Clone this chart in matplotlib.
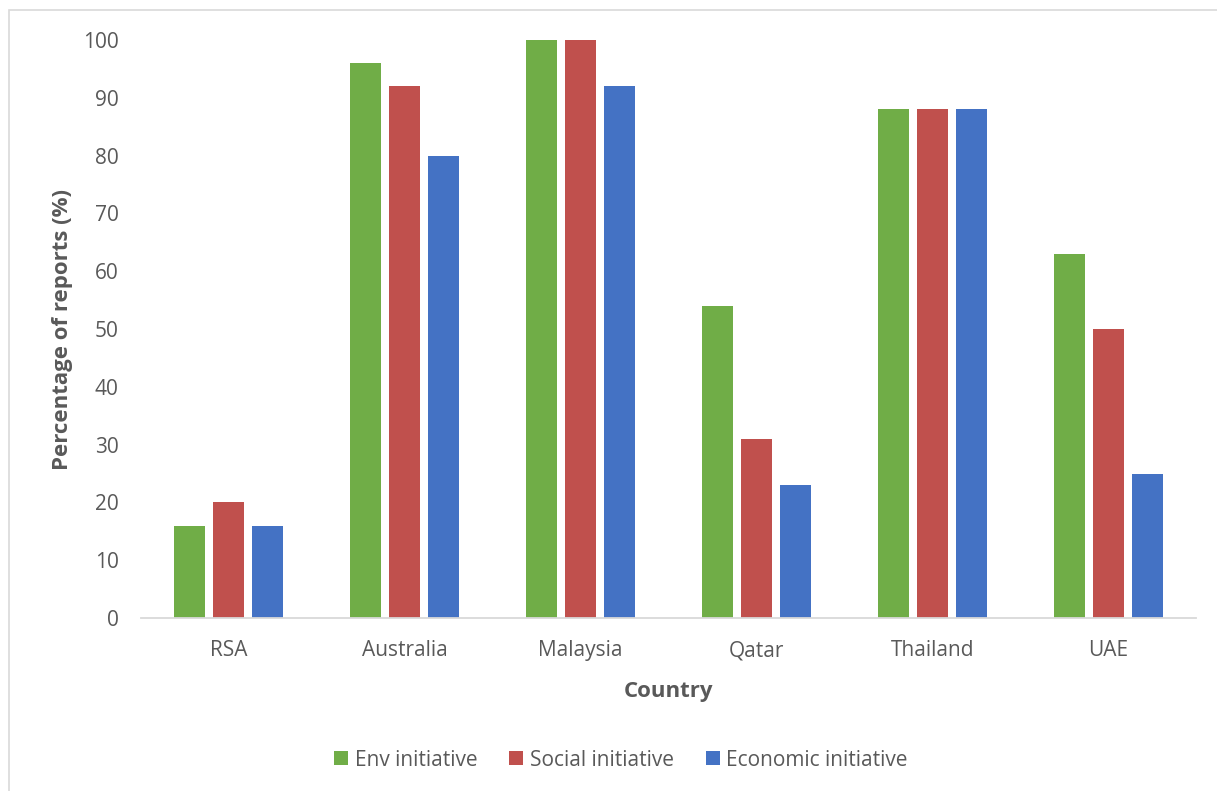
import matplotlib
matplotlib.use("Agg")
import matplotlib.pyplot as plt
from matplotlib.patches import Rectangle, Patch
import numpy as np

countries = ["RSA", "Australia", "Malaysia", "Qatar", "Thailand", "UAE"]
env_initiative = [16, 96, 100, 54, 88, 63]
social_initiative = [20, 92, 100, 31, 88, 50]
economic_initiative = [16, 80, 92, 23, 88, 25]
series_names = ["Env initiative", "Social initiative", "Economic initiative"]
colors = ["#70AD47", "#C0504D", "#4472C4"]
yticks = [0, 10, 20, 30, 40, 50, 60, 70, 80, 90, 100]

plt.rcParams["font.family"] = ["Open Sans", "DejaVu Sans"]
text_color = "#595959"

W, H = 1217, 791
fig = plt.figure(figsize=(W / 100, H / 100), dpi=100)

# chart-area border
fig.patches.append(Rectangle((9 / W, -0.01), 1.1, (H - 10) / H + 0.01,
                             transform=fig.transFigure, fill=False,
                             edgecolor="#D9D9D9", linewidth=1.2))

left, right = 141 / W, 1196 / W
bottom, top = 1 - 618 / H, 1 - 40 / H
ax = fig.add_axes([left, bottom, right - left, top - bottom])

x = np.arange(len(countries))
width = 0.176
offset = 0.222
for i, (vals, name, c) in enumerate(zip(
        [env_initiative, social_initiative, economic_initiative], series_names, colors)):
    ax.bar(x + (i - 1) * offset, vals, width, color=c, label=name, zorder=2)

ax.set_xlim(-0.5, len(countries) - 0.5)
ax.set_ylim(0, 100)
ax.set_yticks(yticks)
ax.set_xticks(x)
ax.set_xticklabels(countries)

for s in ["top", "right", "left"]:
    ax.spines[s].set_visible(False)
ax.spines["bottom"].set_color("#D9D9D9")
ax.spines["bottom"].set_linewidth(1.3)
ax.tick_params(axis="both", length=0, colors=text_color, labelsize=15)
ax.tick_params(axis="y", pad=16)
ax.tick_params(axis="x", pad=16)

ax.set_ylabel("Percentage of reports (%)", fontsize=16, fontweight="bold",
              color=text_color, labelpad=7)
ax.set_xlabel("Country", fontsize=16, fontweight="bold", color=text_color,
              labelpad=14)

handles = [Patch(facecolor=c, label=n) for c, n in zip(colors, series_names)]
fig.legend(handles=handles, loc="center", bbox_to_anchor=(621 / W, 1 - 760 / H),
           ncol=3, frameon=False, fontsize=15, labelcolor=text_color,
           handlelength=0.67, handleheight=0.63, handletextpad=0.3,
           columnspacing=1.55)

fig.savefig("out.png", dpi=100, facecolor="white")
